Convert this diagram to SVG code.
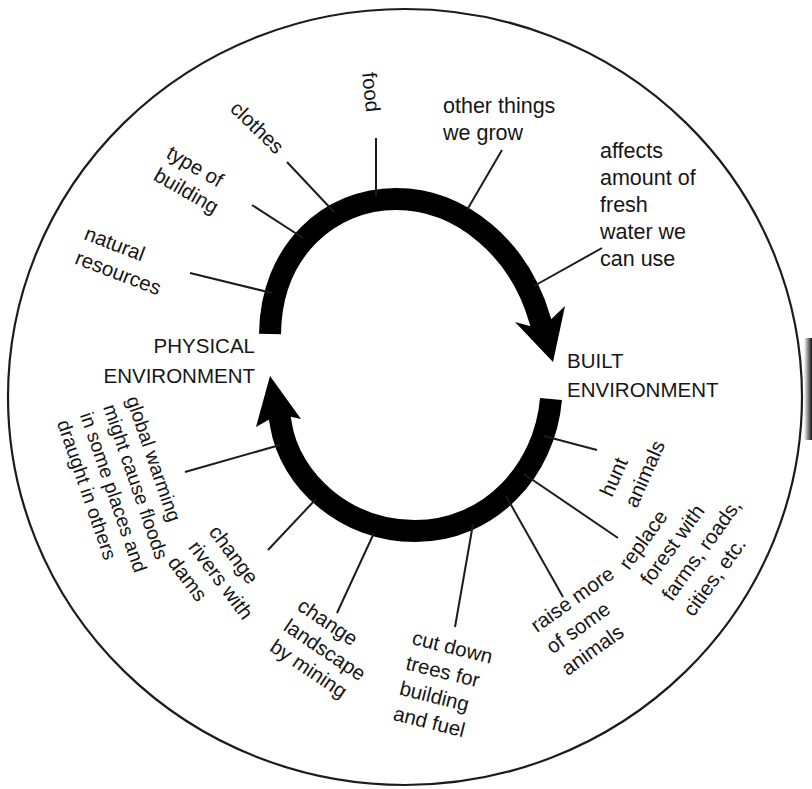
<svg xmlns="http://www.w3.org/2000/svg" width="812" height="789" viewBox="0 0 812 789">
<style>
.lbl{font-family:"Liberation Sans",Arial,sans-serif;font-size:20.5px;fill:#161616}
.hl{font-family:"Liberation Sans",Arial,sans-serif;font-size:21.5px;fill:#161616}
.env{font-family:"Liberation Sans",Arial,sans-serif;font-size:20.5px;fill:#161616}
.lead{stroke:#1c1c1c;stroke-width:2;fill:none}
.ring{stroke:#000;stroke-width:22;fill:none;stroke-linecap:butt}
</style>
<defs>
<linearGradient id="shade" x1="0" y1="0" x2="1" y2="0">
<stop offset="0" stop-color="#fff"/>
<stop offset="1" stop-color="#111"/>
</linearGradient>
</defs>
<rect width="812" height="789" fill="#fff"/>
<ellipse id="outer" cx="405" cy="397" rx="397" ry="388" fill="none" stroke="#1c1c1c" stroke-width="2.2"/>
<rect x="804" y="338" width="8" height="102" fill="url(#shade)"/>
<g id="connectors">
<path class="ring" d="M 270,334 C 271,250 330,199 396,199 C 462,199 520,250 540,320 L 543,331"/>
<polygon points="553,362 515,322 541,329 565,306" fill="#000"/>
<path class="ring" d="M 551,399 C 545,470 490,531 415,531 C 345,531 290,480 281,425 L 279,413"/>
<polygon points="270,376 256,427 279,414 301,419" fill="#000"/>
<line class="lead" x1="190" y1="273" x2="272" y2="293"/>
<line class="lead" x1="252" y1="205" x2="303" y2="238"/>
<line class="lead" x1="287" y1="162" x2="334" y2="212"/>
<line class="lead" x1="376" y1="138" x2="376" y2="196"/>
<line class="lead" x1="502" y1="150" x2="467" y2="210"/>
<line class="lead" x1="602" y1="248" x2="534" y2="286"/>
<line class="lead" x1="185" y1="472" x2="280" y2="445"/>
<line class="lead" x1="268" y1="550" x2="316" y2="499"/>
<line class="lead" x1="337" y1="613" x2="374" y2="533"/>
<line class="lead" x1="455" y1="627" x2="473" y2="524"/>
<line class="lead" x1="563" y1="597" x2="506" y2="496"/>
<line class="lead" x1="618" y1="538" x2="524" y2="474"/>
<line class="lead" x1="597" y1="450" x2="544" y2="436"/>
</g>
<g id="physical-environment"><text class="env" text-anchor="end"><tspan x="255" y="353">PHYSICAL</tspan><tspan x="255" y="383">ENVIRONMENT</tspan></text></g>
<g id="built-environment"><text class="env"><tspan x="567" y="368">BUILT</tspan><tspan x="567" y="397">ENVIRONMENT</tspan></text></g>
<g id="natural-resources" transform="translate(83,239) rotate(21)"><text class="lbl"><tspan x="0" y="0">natural</tspan><tspan x="0" y="26">resources</tspan></text></g>
<g id="type-of-building" transform="translate(165,157) rotate(30)"><text class="lbl"><tspan x="0" y="0">type of</tspan><tspan x="0" y="25.6">building</tspan></text></g>
<g id="clothes" transform="translate(229,110) rotate(44)"><text class="lbl">clothes</text></g>
<g id="food" transform="translate(362,73) rotate(84)"><text class="lbl">food</text></g>
<g id="other-things"><text class="hl"><tspan x="443" y="113">other things</tspan><tspan x="443" y="140">we grow</tspan></text></g>
<g id="fresh-water"><text class="hl"><tspan x="600" y="158">affects</tspan><tspan x="600" y="185">amount of</tspan><tspan x="600" y="212">fresh</tspan><tspan x="600" y="239">water we</tspan><tspan x="600" y="266">can use</tspan></text></g>
<g id="global-warming" transform="translate(126,399) rotate(71)"><text class="lbl" style="font-size:19.5px"><tspan x="0" y="0">global warming</tspan><tspan x="0" y="24.4">might cause floods</tspan><tspan x="0" y="48.8">in some places and</tspan><tspan x="0" y="73.2">draught in others</tspan></text></g>
<g id="change-rivers" transform="translate(208,532) rotate(53)"><text class="lbl"><tspan x="0" y="0">change</tspan><tspan x="0" y="25.6">rivers with</tspan><tspan x="0" y="51.2">dams</tspan></text></g>
<g id="change-landscape" transform="translate(296,609) rotate(34)"><text class="lbl"><tspan x="0" y="0">change</tspan><tspan x="0" y="24.7">landscape</tspan><tspan x="0" y="49.4">by mining</tspan></text></g>
<g id="cut-down-trees" transform="translate(411,644) rotate(14)"><text class="lbl"><tspan x="0" y="0">cut down</tspan><tspan x="0" y="26">trees for</tspan><tspan x="0" y="52">building</tspan><tspan x="0" y="78">and fuel</tspan></text></g>
<g id="raise-animals" transform="translate(537,633) rotate(-35.5)"><text class="lbl"><tspan x="0" y="0">raise more</tspan><tspan x="0" y="26.5">of some</tspan><tspan x="0" y="53">animals</tspan></text></g>
<g id="replace-forest" transform="translate(629,571) rotate(-54)"><text class="lbl"><tspan x="0" y="0">replace</tspan><tspan x="0" y="26.5">forest with</tspan><tspan x="0" y="53">farms, roads,</tspan><tspan x="0" y="79.5">cities, etc.</tspan></text></g>
<g id="hunt-animals" transform="translate(612,498) rotate(-66)"><text class="lbl"><tspan x="0" y="0">hunt</tspan><tspan x="0" y="27">animals</tspan></text></g>
</svg>
